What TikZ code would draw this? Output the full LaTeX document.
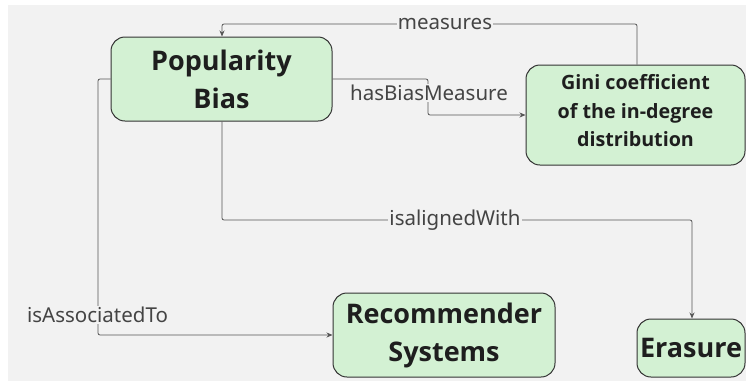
\documentclass[tikz,border=0pt]{standalone}
\usepackage{fontspec}
\setmainfont{Noto Sans}
\newfontfamily\boldfam{Open Sans}
\usetikzlibrary{arrows.meta,calc}
\definecolor{bg}{HTML}{F2F2F2}
\definecolor{boxfill}{HTML}{D3F1D3}
\definecolor{boxdraw}{HTML}{333333}
\definecolor{linec}{HTML}{555555}
\definecolor{labc}{HTML}{444444}
\definecolor{txtc}{HTML}{1E1E1E}
\tikzset{
  concept/.style={draw=boxdraw, line width=1pt, fill=boxfill, rounded corners=14pt,
    align=center, text=txtc, font=\boldfam\fontsize{27}{38}\selectfont\bfseries, inner sep=0pt},
  conceptbox/.style={draw=boxdraw, line width=1pt, fill=boxfill, rounded corners=14pt, inner sep=0pt},
  smalltext/.style={align=center, text=txtc, font=\boldfam\fontsize{19.7}{28.5}\selectfont\bfseries, inner sep=0pt},
  link/.style={draw=linec, line width=0.8pt, rounded corners=2pt, -{Stealth[length=6pt,width=5pt]}},
  lab/.style={fill=bg, text=labc, font=\fontsize{20.5}{24}\selectfont, inner sep=1pt}
}
\begin{document}
\begin{tikzpicture}[x=1pt,y=-1pt]
\useasboundingbox (0,0) rectangle (746,381);
\fill[white] (0,0) rectangle (746,381);
\fill[bg] (8,5) rectangle (746,381);
\node[concept, minimum width=221pt, minimum height=84pt] (pop) at (221.5,79) {Popularity\\Bias};
\node[conceptbox, minimum width=219pt, minimum height=100pt] (gini) at (635.5,115) {};
\node[smalltext] (ginitext) at (635.5,111) {Gini coefficient\\of the in-degree\\distribution};
\node[concept, minimum width=222pt, minimum height=84pt] (rec) at (444,335) {Recommender\\Systems};
\node[concept, minimum width=108pt, minimum height=58pt] (era) at (691,348) {Erasure};
\coordinate (m1) at (637,24);
\coordinate (m2) at (222,24);
\draw[link] ($(gini.north)+(1.5,0)$) -- (m1) -- (m2) -- ($(pop.north)+(0.5,0)$);
\node[lab] (lm) at (445,24) {measures};
\coordinate (h1) at (428,79);
\coordinate (h2) at (428,115);
\draw[link] (pop.east) -- (h1) -- (h2) -- (gini.west);
\node[lab] (lh) at (429,93) {hasBiasMeasure};
\coordinate (a1) at (222,220);
\coordinate (a2) at (692,220);
\draw[link] ($(pop.south)+(0.5,0)$) -- (a1) -- (a2) -- ($(era.north)+(1,0)$);
\node[lab] (la) at (455,220) {isalignedWith};
\coordinate (s1) at (98,79);
\coordinate (s2) at (98,335);
\draw[link] (pop.west) -- (s1) -- (s2) -- (rec.west);
\node[lab] (ls) at (97.5,315) {isAssociatedTo};
\end{tikzpicture}
\end{document}
